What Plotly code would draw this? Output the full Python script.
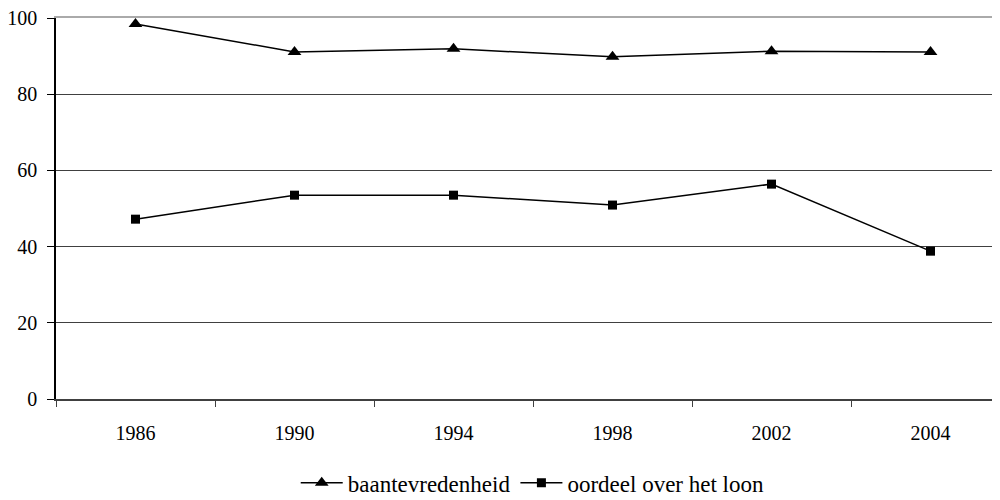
import plotly.graph_objects as go

years = ["1986", "1990", "1994", "1998", "2002", "2004"]
baantevredenheid = [98.4, 91.1, 91.9, 89.8, 91.3, 91.1]
oordeel_loon = [47.2, 53.5, 53.5, 50.9, 56.4, 38.8]
y_ticks = [0, 20, 40, 60, 80, 100]

tick_font = dict(family="Liberation Serif", size=20, color="black")
legend_font = dict(family="Liberation Serif", size=23, color="black")

fig = go.Figure()
fig.add_trace(go.Scatter(
    x=years, y=baantevredenheid, name="baantevredenheid", mode="lines+markers",
    line=dict(color="black", width=1.5),
    marker=dict(symbol="triangle-up", size=12, color="black"),
))
fig.add_trace(go.Scatter(
    x=years, y=oordeel_loon, name="oordeel over het loon", mode="lines+markers",
    line=dict(color="black", width=1.5),
    marker=dict(symbol="square", size=9, color="black"),
))
# empty helper trace so the top frame axis is rendered
fig.add_trace(go.Scatter(x=[None], y=[None], xaxis="x2", yaxis="y",
                         showlegend=False, hoverinfo="skip", mode="lines"))

fig.update_layout(
    width=992, height=492,
    margin=dict(l=48, r=0, t=10, b=101, autoexpand=False),
    paper_bgcolor="white", plot_bgcolor="white",
    font=tick_font,
    showlegend=True,
    legend=dict(orientation="h", x=0.505, xanchor="center",
                yref="container", y=0.035, yanchor="middle",
                font=legend_font, itemwidth=42, tracegroupgap=0),
    xaxis=dict(
        type="category", range=[-0.5, 5.437], tickson="boundaries",
        ticks="outside", ticklen=6, tickcolor="#404040", tickwidth=1,
        showline=True, linecolor="#404040", linewidth=2,
        showgrid=False, zeroline=False, ticklabelstandoff=15,
        tickfont=tick_font, automargin=False,
    ),
    xaxis2=dict(
        overlaying="x", side="top", showline=True, linecolor="#aaaaaa",
        linewidth=2, showticklabels=False, ticks="", showgrid=False,
        zeroline=False, automargin=False, range=[0, 1],
    ),
    yaxis=dict(
        range=[0, 100], tickvals=y_ticks,
        ticks="outside", ticklen=7, tickcolor="black", tickwidth=1,
        showline=True, linecolor="black", linewidth=1.5,
        showgrid=True, gridcolor="#404040", gridwidth=1,
        zeroline=False, tickfont=tick_font, ticklabelstandoff=6,
        ticklabeloverflow="allow", automargin=False,
    ),
)

fig.write_html("out.html")
